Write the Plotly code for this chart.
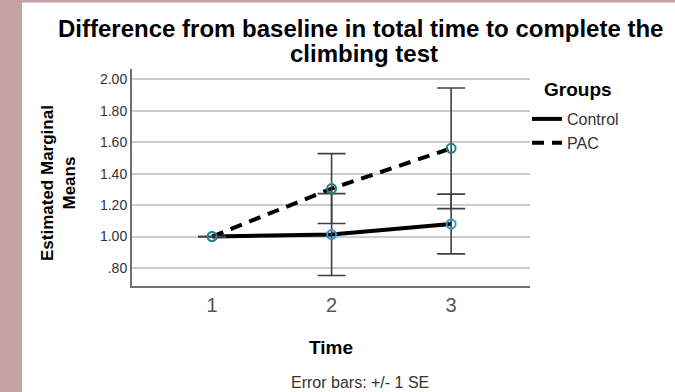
import plotly.graph_objects as go

# ---- data ----
times = [1, 2, 3]
groups = ["Control", "PAC"]
control_mean = [1.00, 1.013, 1.08]
control_se = [0.0, 0.26, 0.19]
pac_mean = [1.00, 1.305, 1.561]
pac_se = [0.0, 0.222, 0.383]
y_tickvals = [0.8, 1.0, 1.2, 1.4, 1.6, 1.8, 2.0]
y_ticktext = [".80", "1.00", "1.20", "1.40", "1.60", "1.80", "2.00"]
x_ticktext = ["1", "2", "3"]
title_lines = ["Difference from baseline in total time to complete the", "climbing test"]

W, H = 675, 392
ML, MR, MT, MB = 132, 145, 69, 106
pw, ph = W - ML - MR, H - MT - MB

def px_to_paper_x(px):
    return (px - ML) / pw

def px_to_paper_y(py):
    return (H - MB - py) / ph

FONT = "Liberation Sans, Arial, sans-serif"

series = [
    (groups[0], control_mean, control_se, None, "#2f97d6"),
    (groups[1], pac_mean, pac_se, "12px,8px", "#24808a"),
]

fig = go.Figure()
for name, mean, se, dash, mcol in series:
    fig.add_trace(go.Scatter(
        x=times, y=mean, name=name, mode="lines",
        line=dict(color="black", width=4, dash=dash),
    ))
for name, mean, se, dash, mcol in series:
    fig.add_trace(go.Scatter(
        x=times, y=mean, name=name, mode="markers", showlegend=False,
        marker=dict(symbol="circle-open", size=9, color=mcol, line=dict(width=2)),
        error_y=dict(type="data", array=se, visible=True, color="#404040", thickness=1.6, width=14),
    ))

shapes = [
    dict(type="rect", xref="paper", yref="paper", layer="below",
         x0=px_to_paper_x(0), x1=px_to_paper_x(22), y0=px_to_paper_y(H), y1=px_to_paper_y(0),
         fillcolor="#c6a2a2", line=dict(width=0)),
    dict(type="rect", xref="paper", yref="paper", layer="below",
         x0=px_to_paper_x(0), x1=px_to_paper_x(W), y0=px_to_paper_y(2.5), y1=px_to_paper_y(0),
         fillcolor="#c6a2a2", line=dict(width=0)),
]

annotations = [
    dict(text="<b>%s</b>" % title_lines[0], xref="paper", yref="paper",
         x=px_to_paper_x(360), y=px_to_paper_y(29), xanchor="center", yanchor="middle",
         showarrow=False, font=dict(size=24, color="black")),
    dict(text="<b>%s</b>" % title_lines[1], xref="paper", yref="paper",
         x=px_to_paper_x(364), y=px_to_paper_y(53), xanchor="center", yanchor="middle",
         showarrow=False, font=dict(size=24, color="black")),
    dict(text="<b>Estimated Marginal<br>Means</b>", xref="paper", yref="paper",
         x=px_to_paper_x(58), y=px_to_paper_y(183), xanchor="center", yanchor="middle",
         textangle=-90, showarrow=False, font=dict(size=17, color="black")),
    dict(text="<b>Groups</b>", xref="paper", yref="paper",
         x=px_to_paper_x(542), y=px_to_paper_y(89), xanchor="left", yanchor="middle",
         showarrow=False, font=dict(size=19, color="black")),
    dict(text="Error bars: +/- 1 SE", xref="paper", yref="paper",
         x=px_to_paper_x(360), y=px_to_paper_y(382), xanchor="center", yanchor="middle",
         showarrow=False, font=dict(size=16, color="#333")),
]

fig.update_layout(
    width=W, height=H,
    margin=dict(l=ML, r=MR, t=MT, b=MB),
    paper_bgcolor="white", plot_bgcolor="white",
    font=dict(family=FONT, color="#222"),
    showlegend=True,
    xaxis=dict(
        range=[0.33, 3.66], tickvals=times, ticktext=x_ticktext,
        showgrid=False, zeroline=False, showline=True, linecolor="#707070", linewidth=2,
        ticks="", tickfont=dict(size=20, color="#555"),
        title=dict(text="<b>Time</b>", font=dict(size=19, color="black"), standoff=26),
    ),
    yaxis=dict(
        range=[0.686, 2.065], tickvals=y_tickvals, ticktext=y_ticktext,
        showgrid=True, gridcolor="#cccccc", gridwidth=1.5, zeroline=False,
        showline=True, linecolor="#707070", linewidth=2, ticks="",
        tickfont=dict(size=14, color="#333"),
    ),
    legend=dict(
        x=px_to_paper_x(527), y=px_to_paper_y(102), xanchor="left", yanchor="top",
        font=dict(size=16, color="#333"), bgcolor="rgba(0,0,0,0)",
        itemwidth=30, tracegroupgap=0,
    ),
    shapes=shapes,
    annotations=annotations,
)

fig.write_html("out.html")
